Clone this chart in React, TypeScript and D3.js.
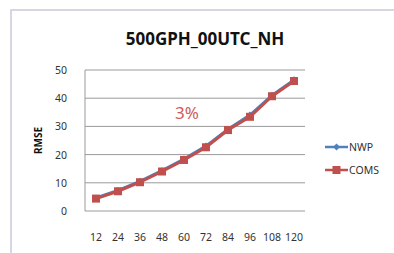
import React from "react";
import * as d3 from "d3";

const categories = ["12", "24", "36", "48", "60", "72", "84", "96", "108", "120"];
const nwpValues = [4.6, 7.3, 10.5, 14.3, 18.4, 23.0, 29.0, 34.0, 41.0, 46.5];
const comsValues = [4.4, 7.0, 10.2, 14.0, 18.1, 22.6, 28.7, 33.4, 40.7, 46.1];
const yTicks = [0, 10, 20, 30, 40, 50];
const seriesNames = ["NWP", "COMS"];

const W = 394, H = 253;
const left = 85, right = 305, top = 70, bottom = 211;
const font = "'Noto Sans', 'Open Sans', sans-serif";

export default function App() {
  const x = d3.scaleBand<string>().domain(categories).range([left, right]);
  const y = d3.scaleLinear().domain([0, 50]).range([bottom, top]);
  const line = d3.line<number>()
    .x((_, i) => (x(categories[i]) as number) + x.bandwidth() / 2)
    .y((d) => y(d));
  const cx = (i: number) => (x(categories[i]) as number) + x.bandwidth() / 2;
  return (
    <svg width={W} height={H} style={{ position: "absolute", left: 0, top: 0, background: "#fff" }}>
      <rect x={11} y={10} width={W} height={H} fill="#fff" stroke="#c5ccd8" strokeWidth={1.5} />
      <text x={205} y={45} textAnchor="middle" fontFamily={font} fontWeight="bold" fontSize={17} fill="#111">500GPH_00UTC_NH</text>
      {yTicks.map((t) => (
        <g key={t}>
          <line x1={left} x2={right} y1={y(t)} y2={y(t)} stroke="#9a9a9a" strokeWidth={1} />
          <text x={67} y={y(t) + 4} textAnchor="end" fontFamily={font} fontSize={10.5} fill="#333">{t}</text>
        </g>
      ))}
      <line x1={left} x2={left} y1={top} y2={bottom} stroke="#9a9a9a" strokeWidth={1} />
      {categories.map((c) => (
        <text key={c} x={(x(c) as number) + x.bandwidth() / 2} y={241} textAnchor="middle" fontFamily={font} fontSize={10.5} fill="#333">{c}</text>
      ))}
      <text transform={`translate(42,${(top + bottom) / 2}) rotate(-90)`} textAnchor="middle" fontFamily={font} fontWeight="bold" fontSize={10} fill="#111">RMSE</text>
      <path d={line(nwpValues) || ""} fill="none" stroke="#4f81bd" strokeWidth={3} />
      {nwpValues.map((v, i) => (
        <rect key={i} x={cx(i) - 2.5} y={y(v) - 2.5} width={5} height={5} fill="#4f81bd" transform={`rotate(45 ${cx(i)} ${y(v)})`} />
      ))}
      <path d={line(comsValues) || ""} fill="none" stroke="#c0504d" strokeWidth={3} />
      {comsValues.map((v, i) => (
        <rect key={i} x={cx(i) - 4} y={y(v) - 4} width={8} height={8} fill="#c0504d" />
      ))}
      <text x={187} y={119} textAnchor="middle" fontFamily={font} fontSize={17} fill="#cf5c59">3%</text>
      <line x1={325} x2={348} y1={147} y2={147} stroke="#4f81bd" strokeWidth={2.5} />
      <rect x={334} y={144.5} width={5} height={5} fill="#4f81bd" transform="rotate(45 336.5 147)" />
      <text x={349} y={151} fontFamily={font} fontSize={10.5} fill="#333">{seriesNames[0]}</text>
      <line x1={325} x2={348} y1={170} y2={170} stroke="#c0504d" strokeWidth={2.5} />
      <rect x={332.5} y={166} width={8} height={8} fill="#c0504d" />
      <text x={349} y={174} fontFamily={font} fontSize={10.5} fill="#333">{seriesNames[1]}</text>
    </svg>
  );
}
